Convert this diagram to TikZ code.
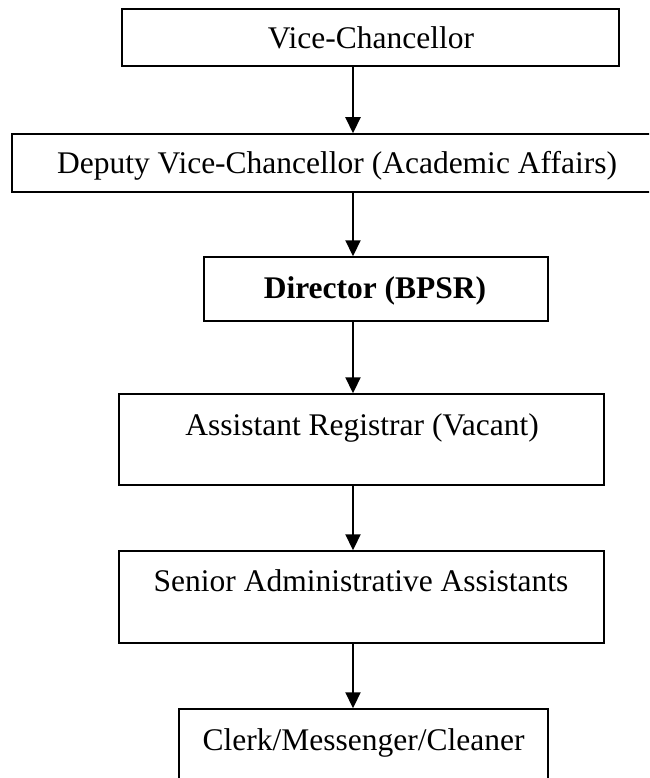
\documentclass[tikz,border=0pt]{standalone}
\usepackage{fontspec}
\setmainfont{Liberation Serif}
\usetikzlibrary{arrows.meta}
\begin{document}
\begin{tikzpicture}[x=1pt,y=-1pt,
  orgbox/.style={draw=black, line width=1.5pt, inner sep=0pt, fill=none},
  orgtext/.style={anchor=base, inner sep=0pt, font=\fontsize{31.5}{36}\selectfont},
  arr/.style={draw=black, line width=2.2pt, -{Triangle[width=15pt,length=16pt]}}
]
\useasboundingbox (0,0) rectangle (649,778);
\clip (0,0) rectangle (649,778);
\coordinate (ax) at (353,0);
% boxes
\node[orgbox, minimum width=497pt, minimum height=57pt] (vc) at (370.5,37.5) {};
\node[orgbox, minimum width=650pt, minimum height=58pt] (dvc) at (337,163) {};
\node[orgbox, minimum width=344pt, minimum height=64pt] (dir) at (376,289) {};
\node[orgbox, minimum width=485pt, minimum height=91pt] (ar) at (361.5,439.5) {};
\node[orgbox, minimum width=485pt, minimum height=92pt] (saa) at (361.5,597) {};
\node[orgbox, minimum width=369pt, minimum height=91pt] (clk) at (363.5,754.5) {};
% texts
\node[orgtext] (vct) at (371,49) {Vice-Chancellor};
\node[orgtext] (dvct) at (337,174) {Deputy Vice-Chancellor (Academic Affairs)};
\node[orgtext, font=\fontsize{31.5}{36}\selectfont\bfseries] (dirt) at (375,298) {Director (BPSR)};
\node[orgtext] (art) at (362,435) {Assistant Registrar (Vacant)};
\node[orgtext] (saat) at (361,591) {Senior Administrative Assistants};
\node[orgtext] (clkt) at (363.5,750) {Clerk/Messenger/Cleaner};
% connectors
\draw[arr] (vc.south -| ax) -- (dvc.north -| ax);
\draw[arr] (dvc.south -| ax) -- (dir.north -| ax);
\draw[arr] (dir.south -| ax) -- (ar.north -| ax);
\draw[arr] (ar.south -| ax) -- (saa.north -| ax);
\draw[arr] (saa.south -| ax) -- (clk.north -| ax);
\end{tikzpicture}
\end{document}
